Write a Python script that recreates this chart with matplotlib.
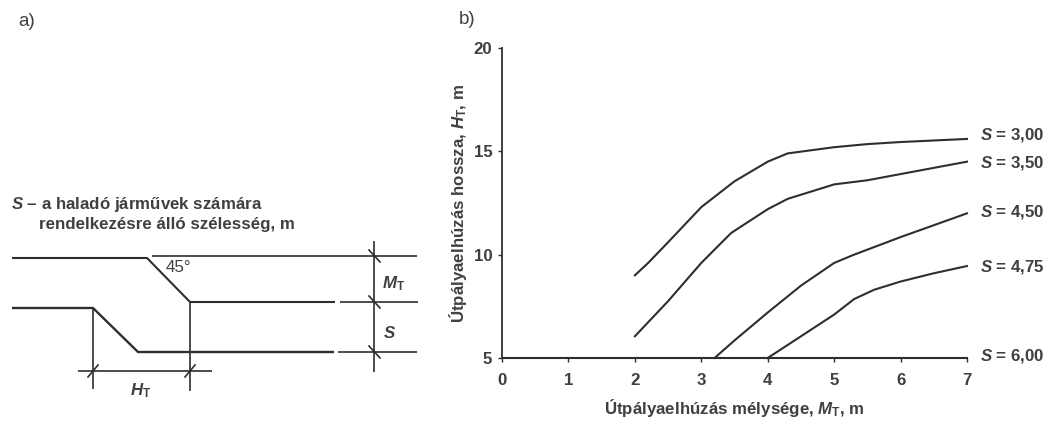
import matplotlib
matplotlib.use("Agg")
import matplotlib.pyplot as plt

plt.rcParams["font.family"] = ["Liberation Sans", "DejaVu Sans"]
plt.rcParams["mathtext.fontset"] = "custom"
plt.rcParams["mathtext.rm"] = "Liberation Sans:bold"
plt.rcParams["mathtext.it"] = "Liberation Sans:italic:bold"
plt.rcParams["mathtext.bf"] = "Liberation Sans:bold"

W, H = 1048, 421
INK = "#2e2e2e"
TXT = "#404040"
FS = 12.2

# ---- panel b data ----
s300_x = [2, 2.2, 2.5, 3, 3.5, 4, 4.3, 5, 5.5, 6, 7]
s300_y = [9, 9.6, 10.6, 12.3, 13.55, 14.5, 14.9, 15.2, 15.35, 15.45, 15.6]
s350_x = [2, 2.5, 3, 3.45, 4, 4.3, 5, 5.5, 6, 7]
s350_y = [6.05, 7.75, 9.6, 11.05, 12.2, 12.7, 13.4, 13.6, 13.9, 14.5]
s450_x = [3.2, 3.5, 4, 4.5, 5, 5.3, 6, 7]
s450_y = [5, 5.85, 7.2, 8.5, 9.6, 10, 10.85, 12]
s475_x = [4, 4.5, 5, 5.3, 5.6, 6, 6.5, 7]
s475_y = [5, 6.05, 7.1, 7.85, 8.3, 8.7, 9.1, 9.45]
s600_x = [0, 7]
s600_y = [5, 5]

curves = [(s300_x, s300_y), (s350_x, s350_y), (s450_x, s450_y),
          (s475_x, s475_y), (s600_x, s600_y)]
curve_labels = ["3,00", "3,50", "4,50", "4,75", "6,00"]
label_rows = [135, 163, 212, 267, 356]

x_ticks = [0, 1, 2, 3, 4, 5, 6, 7]
y_ticks = [5, 10, 15, 20]

# ---- panel a schematic, in image pixels ----
road_lines = [
    ([12, 147, 190, 335], [258, 258, 302, 302], 1.5),
    ([12, 93, 138, 334], [308, 308, 352, 352], 1.7),
    ([152, 417], [256, 256], 1.2),
    ([340, 418], [302, 302], 1.2),
    ([338, 417], [352, 352], 1.2),
    ([374, 374], [241, 372], 1.2),
    ([93, 93], [308, 389], 1.2),
    ([190, 190], [302, 391], 1.2),
    ([78, 212], [371, 371], 1.2),
]
tick_marks = [(374, 256), (374, 302), (374, 352), (93, 371), (190, 371)]

fig = plt.figure(figsize=(W / 100, H / 100), dpi=100)

# full-figure overlay in pixel coordinates
over = fig.add_axes([0, 0, 1, 1])
over.set_xlim(0, W)
over.set_ylim(H, 0)
over.axis("off")

for xs, ys, lw in road_lines:
    over.plot(xs, ys, color=INK, lw=lw, solid_capstyle="butt")
for mx, my in tick_marks:
    if my == 371:
        over.plot([mx - 5, mx + 5], [my + 6, my - 6], color=INK, lw=1.2)
    else:
        over.plot([mx - 5, mx + 6], [my - 6, my + 6], color=INK, lw=1.2)

over.text(18, 22, "a)", fontsize=13.5, color=TXT, va="center")
over.text(459, 20, "b)", fontsize=13.5, color=TXT, va="center")
over.text(11, 205, r"$\mathit{S}$ – a haladó járművek számára",
          fontsize=FS, color=TXT, fontweight="bold", va="center")
over.text(39, 224, "rendelkezésre álló szélesség, m",
          fontsize=FS, color=TXT, fontweight="bold", va="center")
over.text(166, 267, "45°", fontsize=FS, color=TXT, va="center")
over.text(382, 284, r"$\mathit{M}_{\mathrm{T}}$", fontsize=FS, color=TXT, va="center")
over.text(383, 333, r"$\mathit{S}$", fontsize=FS, color=TXT, va="center")
over.text(130, 391, r"$\mathit{H}_{\mathrm{T}}$", fontsize=FS, color=TXT, va="center")

for name, row in zip(curve_labels, label_rows):
    over.text(980, row, r"$\mathit{S}$ = " + name, fontsize=FS, color=TXT,
              fontweight="bold", va="center")

# panel b axes: x 0..7 at px 502..967, y 5..20 at px 358..48
ax = fig.add_axes([502 / W, 1 - 358 / H, (967 - 502) / W, (358 - 48) / H])
ax.patch.set_alpha(0)
for xs, ys in curves:
    ax.plot(xs, ys, color=INK, lw=1.5, clip_on=False)
ax.set_xlim(0, 7)
ax.set_ylim(5, 20)
ax.set_xticks(x_ticks)
ax.set_yticks(y_ticks)
ax.spines["top"].set_visible(False)
ax.spines["right"].set_visible(False)
ax.spines["left"].set_color(INK)
ax.spines["bottom"].set_color(INK)
ax.spines["left"].set_linewidth(1.3)
ax.spines["bottom"].set_linewidth(1.3)
ax.tick_params(length=3, width=1, color=INK, labelsize=FS, labelcolor=TXT)
ax.tick_params(axis="x", pad=8)
ax.tick_params(axis="y", pad=4)
for t in ax.get_xticklabels() + ax.get_yticklabels():
    t.set_fontweight("bold")
ax.set_xlabel(r"Útpályaelhúzás mélysége, $\mathit{M}_{\mathrm{T}}$, m",
              fontsize=FS, fontweight="bold", color=TXT)
ax.xaxis.set_label_coords(0.5, -(408 - 358) / 310, transform=ax.transAxes)
ax.xaxis.label.set_va("center")
ax.set_ylabel(r"Útpályaelhúzás hossza, $\mathit{H}_{\mathrm{T}}$, m",
              fontsize=FS, fontweight="bold", color=TXT)
ax.yaxis.set_label_coords((458 - 502) / 465, 0.5, transform=ax.transAxes)
ax.yaxis.label.set_va("center")

fig.savefig("out.png", dpi=100)
